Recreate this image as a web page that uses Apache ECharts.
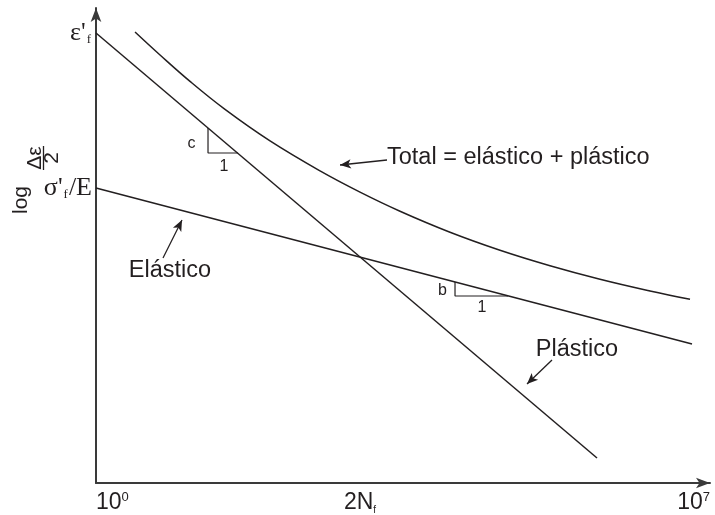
<!DOCTYPE html>
<html><head><meta charset="utf-8">
<script src="https://cdn.jsdelivr.net/npm/echarts@6/dist/echarts.min.js"></script>
<style>html,body{margin:0;padding:0;background:#fff}#c{width:715px;height:515px}</style>
</head><body><div id="c"></div>
<script>
// x: log10(2N) in decades (10^0 .. 10^7); y: log(Δε/2) in arbitrary units
const plasticX = [0, 5.712];
const plasticY = [9.474, 0.526];
const elasticX = [0, 6.795];
const elasticY = [6.211, 2.926];
const totalX = [0.445, 0.730, 1.072, 1.471, 1.984, 2.554, 3.010, 3.466, 4.036, 4.606, 5.176, 5.746, 6.316, 6.772];
const totalY = [9.495, 9.011, 8.455, 7.865, 7.202, 6.571, 6.124, 5.722, 5.280, 4.901, 4.575, 4.291, 4.044, 3.867];
const slopeCX = [1.277, 1.277, 1.619];
const slopeCY = [7.474, 6.947, 6.947];
const slopeBX = [4.093, 4.093, 4.697];
const slopeBY = [4.232, 3.937, 3.937];
const xTickValues = [0, 3.01, 7];
const xTickLabels = ['{n|10}{sup|0}', '{n|2N}{sub|f}', '{n|10}{sup|7}'];
const yTickValues = [6.211, 9.474];
const yTickLabels = ["{s|σ'}{sub|f}{s|/E}", "{s|ε'}{sub|f}"];

const INK = '#231f20';
const SANS = '"Liberation Sans", Arial, sans-serif';
const SERIF = '"Liberation Serif", "Times New Roman", serif';
const zip = (a, b) => a.map((v, i) => [v, b[i]]);

const chart = echarts.init(document.getElementById('c'), null, {renderer: 'canvas'});
const lineBase = {type: 'line', showSymbol: false, silent: true, lineStyle: {color: INK, width: 1.5}};
const txt = (x, y, text, size, align, extra) => Object.assign({
  type: 'text', x: x, y: y,
  style: {text: text, font: size + 'px ' + SANS, fill: INK, align: align, textAlign: align, verticalAlign: 'middle', textVerticalAlign: 'middle'}
}, extra || {});
const option = {
  animation: false,
  backgroundColor: '#fff',
  grid: {left: 96, right: 5, top: 8, bottom: 32, containLabel: false},
  xAxis: {
    type: 'value', min: 0, max: 7,
    splitLine: {show: false}, axisTick: {show: false},
    axisLine: {lineStyle: {color: '#3a3a3a', width: 2}, symbol: ['none', 'arrow'], symbolSize: [8, 14]},
    axisLabel: {
      customValues: xTickValues, margin: 8, color: INK,
      alignMinLabel: 'left', alignMaxLabel: 'right',
      formatter: v => xTickLabels[xTickValues.indexOf(v)] || '',
      rich: {
        n: {fontFamily: SANS, fontSize: 23, color: INK, lineHeight: 24},
        sup: {fontFamily: SANS, fontSize: 13, color: INK, verticalAlign: 'top', lineHeight: 14},
        sub: {fontFamily: SANS, fontSize: 10, color: INK, verticalAlign: 'bottom', lineHeight: 10}
      }
    }
  },
  yAxis: {
    type: 'value', min: 0, max: 10,
    splitLine: {show: false}, axisTick: {show: false},
    axisLine: {show: true, lineStyle: {color: '#3a3a3a', width: 2}, symbol: ['none', 'arrow'], symbolSize: [8, 14]},
    axisLabel: {
      customValues: yTickValues, margin: 4, color: INK,
      formatter: v => yTickLabels[yTickValues.indexOf(v)] || '',
      rich: {
        s: {fontFamily: SERIF, fontSize: 26, color: INK, lineHeight: 27},
        sub: {fontFamily: SERIF, fontSize: 13, color: INK, verticalAlign: 'bottom', lineHeight: 12, padding: [0, 1, 0, 1]}
      }
    }
  },
  series: [
    Object.assign({}, lineBase, {name: 'Plástico', data: zip(plasticX, plasticY)}),
    Object.assign({}, lineBase, {name: 'Elástico', data: zip(elasticX, elasticY)}),
    Object.assign({}, lineBase, {name: 'Total', smooth: 0.4, data: zip(totalX, totalY),
      markLine: {
        silent: true, symbol: ['none', 'arrow'], symbolSize: [7, 11],
        label: {show: false},
        lineStyle: {color: INK, width: 1.3, type: 'solid'},
        data: [
          [{x: 387, y: 160}, {x: 340, y: 165}],
          [{x: 163, y: 258}, {x: 182, y: 220}],
          [{x: 552, y: 360}, {x: 527, y: 384}]
        ]
      }}),
    Object.assign({}, lineBase, {name: 'c', data: zip(slopeCX, slopeCY), lineStyle: {color: INK, width: 1.2}}),
    Object.assign({}, lineBase, {name: 'b', data: zip(slopeBX, slopeBY), lineStyle: {color: INK, width: 1.2}})
  ],
  graphic: [
    txt(387, 158, 'Total = elástico + plástico', 23.5, 'left'),
    txt(170, 271, 'Elástico', 23.5, 'center'),
    txt(577, 350, 'Plástico', 23.5, 'center'),
    txt(191.5, 144, 'c', 16, 'center'),
    txt(224, 167, '1', 16, 'center'),
    txt(442.5, 291, 'b', 16, 'center'),
    txt(482, 308, '1', 16, 'center'),
    txt(21, 200, 'log', 21, 'center', {rotation: Math.PI / 2}),
    txt(35, 158, 'Δε', 21, 'center', {rotation: Math.PI / 2}),
    txt(52, 158, '2', 21, 'center', {rotation: Math.PI / 2}),
    {type: 'line', shape: {x1: 43.5, y1: 146, x2: 43.5, y2: 170}, style: {stroke: INK, lineWidth: 1.3}}
  ]
};
chart.setOption(option);
</script>
</body></html>
